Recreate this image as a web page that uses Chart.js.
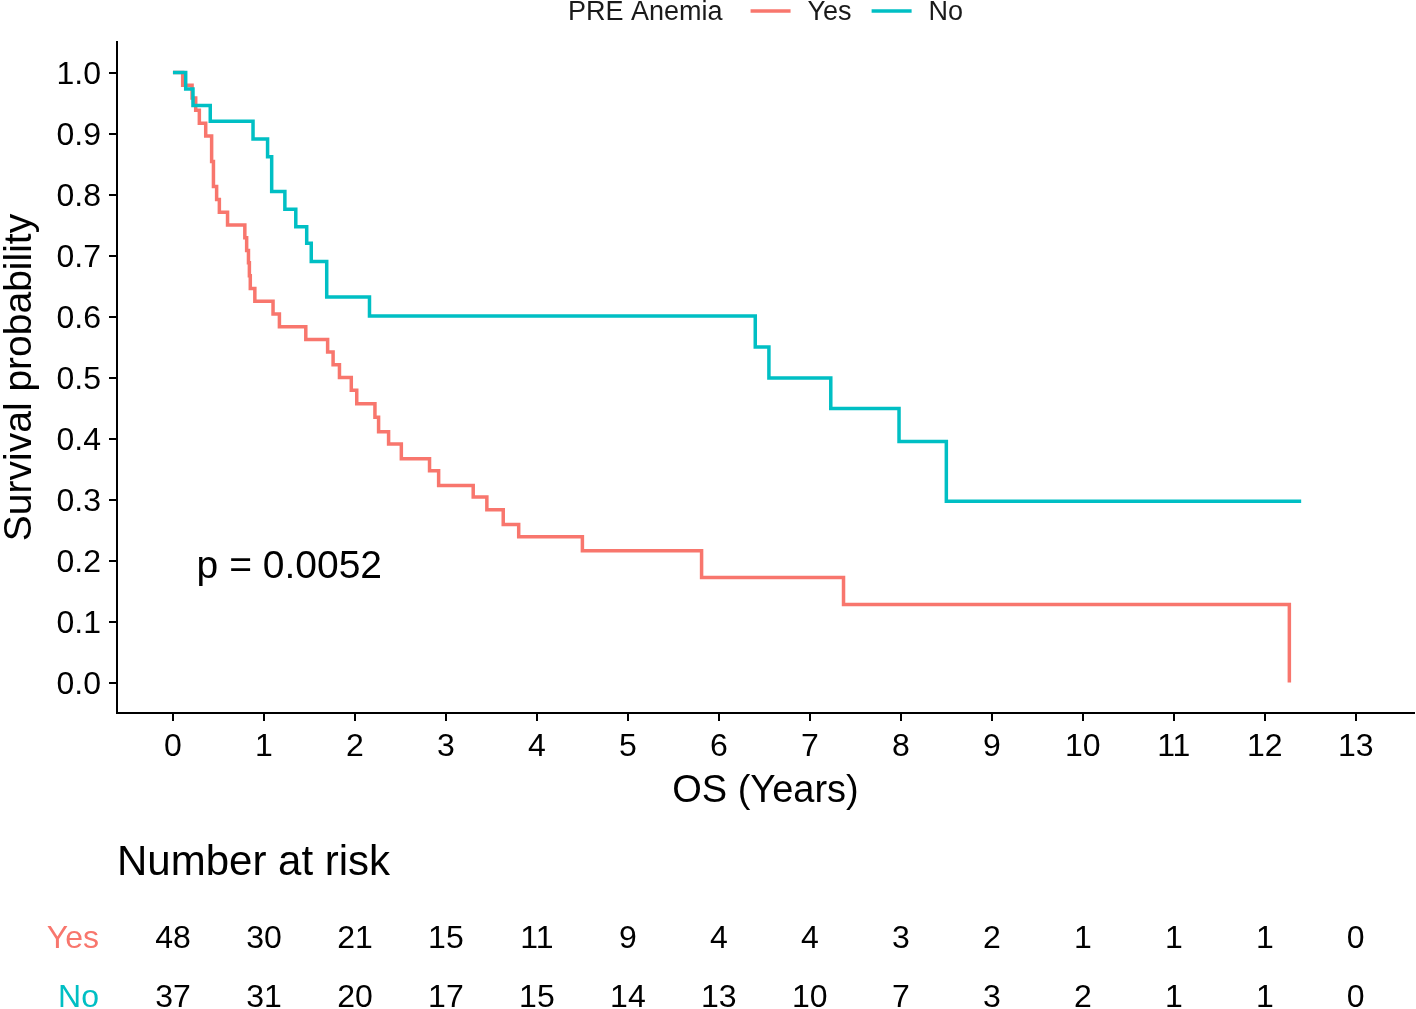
<!DOCTYPE html>
<html><head><meta charset="utf-8">
<script src="https://cdn.jsdelivr.net/npm/chart.js@4/dist/chart.umd.min.js"></script>
<style>html,body{margin:0;padding:0;background:#fff;overflow:hidden}</style>
</head><body>
<canvas id="c" width="1416" height="1009"></canvas>
<script>
// ---- data ----
const yesTimes = [0, 0.107, 0.21, 0.25, 0.29, 0.36, 0.425, 0.445, 0.48, 0.51, 0.60, 0.79, 0.81, 0.83, 0.84, 0.85, 0.90, 1.10, 1.17, 1.46, 1.70, 1.76, 1.83, 1.96, 2.02, 2.22, 2.26, 2.37, 2.51, 2.82, 2.92, 3.30, 3.45, 3.63, 3.80, 4.50, 5.81, 7.37, 12.27];
const yesSurv  = [1.0, 0.979, 0.958, 0.938, 0.917, 0.896, 0.854, 0.813, 0.792, 0.771, 0.750, 0.729, 0.708, 0.688, 0.667, 0.646, 0.625, 0.604, 0.583, 0.5625, 0.542, 0.521, 0.500, 0.479, 0.457, 0.435, 0.411, 0.391, 0.367, 0.347, 0.323, 0.304, 0.283, 0.259, 0.239, 0.216, 0.172, 0.128, 0.0];
const noTimes  = [0, 0.14, 0.22, 0.41, 0.88, 1.04, 1.085, 1.23, 1.35, 1.47, 1.52, 1.69, 2.16, 6.40, 6.55, 7.23, 7.98, 8.50, 12.40];
const noSurv   = [1.0, 0.973, 0.946, 0.920, 0.891, 0.862, 0.805, 0.776, 0.747, 0.720, 0.690, 0.632, 0.601, 0.550, 0.499, 0.449, 0.395, 0.297, 0.297];
const xTicks = [0,1,2,3,4,5,6,7,8,9,10,11,12,13];
const yTicks = [0,0.1,0.2,0.3,0.4,0.5,0.6,0.7,0.8,0.9,1.0];
const riskTimes = [0,1,2,3,4,5,6,7,8,9,10,11,12,13];
const riskYes = [48,30,21,15,11,9,4,4,3,2,1,1,1,0];
const riskNo  = [37,31,20,17,15,14,13,10,7,3,2,1,1,0];
const groupLabels = ['Yes','No'];
const groupColors = ['#F8766D','#00BFC4'];
const legendTitle = 'PRE Anemia';
const pValueText = 'p = 0.0052';
const pValuePos = [0.26, 0.189];
const xTitle = 'OS (Years)';
const yTitle = 'Survival probability';
const riskTitle = 'Number at risk';

const FONT = '"Liberation Sans", Arial, sans-serif';
const toXY = (ts, ss) => ts.map((t, i) => ({x: t, y: ss[i]}));

const extras = {
  id: 'extras',
  afterDraw(chart) {
    const ctx = chart.ctx;
    const xs = chart.scales.x, ys = chart.scales.y;
    ctx.save();
    // legend
    ctx.font = '27px ' + FONT;
    ctx.textBaseline = 'middle';
    ctx.textAlign = 'left';
    ctx.fillStyle = '#1a1a1a';
    const ly = 13;
    let lx = 568;
    ctx.fillText(legendTitle, lx, ly);
    lx += ctx.measureText(legendTitle).width + 28;
    chart.data.datasets.forEach((ds, i) => {
      ctx.strokeStyle = ds.borderColor;
      ctx.lineWidth = 3.5;
      ctx.beginPath(); ctx.moveTo(lx, ly - 2); ctx.lineTo(lx + 40, ly - 2); ctx.stroke();
      lx += 40 + 17;
      ctx.fillStyle = '#1a1a1a';
      ctx.fillText(ds.label, lx, ly);
      lx += ctx.measureText(ds.label).width + 20;
    });
    // p-value
    ctx.font = '39px ' + FONT;
    ctx.fillStyle = '#000';
    ctx.fillText(pValueText, xs.getPixelForValue(pValuePos[0]), ys.getPixelForValue(pValuePos[1]));
    // risk table
    ctx.font = '42px ' + FONT;
    ctx.fillText(riskTitle, chart.chartArea.left, 863);
    const rows = [riskYes, riskNo];
    const rowY = [939, 998];
    rows.forEach((row, r) => {
      ctx.font = '32px ' + FONT;
      ctx.textAlign = 'right';
      ctx.fillStyle = groupColors[r];
      ctx.fillText(groupLabels[r], 99, rowY[r]);
      ctx.textAlign = 'center';
      ctx.fillStyle = '#000';
      row.forEach((v, i) => ctx.fillText(String(v), xs.getPixelForValue(riskTimes[i]), rowY[r]));
    });
    ctx.restore();
  }
};

new Chart(document.getElementById('c'), {
  type: 'line',
  data: {
    datasets: [
      {label: groupLabels[0], data: toXY(yesTimes, yesSurv), borderColor: groupColors[0], borderWidth: 3.5, stepped: 'before', pointRadius: 0, fill: false, order: 1},
      {label: groupLabels[1], data: toXY(noTimes, noSurv), borderColor: groupColors[1], borderWidth: 3.5, stepped: 'before', pointRadius: 0, fill: false, order: 0}
    ]
  },
  options: {
    responsive: false,
    animation: false,
    devicePixelRatio: 1,
    layout: {padding: {top: 42, right: 2, left: 0, bottom: 0}},
    plugins: {legend: {display: false}, tooltip: {enabled: false}},
    scales: {
      x: {
        type: 'linear', min: -0.615, max: 13.64,
        afterBuildTicks: s => { s.ticks = xTicks.map(v => ({value: v})); },
        afterFit: s => { s.height = 296; },
        ticks: {autoSkip: false, maxRotation: 0, padding: 7, color: '#000', font: {family: FONT, size: 32}, callback: v => String(v)},
        grid: {drawOnChartArea: false, drawTicks: true, tickLength: 8, color: '#000', lineWidth: 2},
        border: {display: true, color: '#000', width: 2},
        title: {display: true, text: xTitle, color: '#000', font: {family: FONT, size: 38, lineHeight: 1.2}, padding: {top: 0, bottom: 195}}
      },
      y: {
        type: 'linear', min: -0.05, max: 1.05,
        afterBuildTicks: s => { s.ticks = yTicks.map(v => ({value: v})); },
        afterFit: s => { s.width = 117; },
        ticks: {autoSkip: false, padding: 8, labelOffset: 3, color: '#000', font: {family: FONT, size: 32}, callback: v => Number(v).toFixed(1)},
        grid: {drawOnChartArea: false, drawTicks: true, tickLength: 8, color: '#000', lineWidth: 2},
        border: {display: true, color: '#000', width: 2},
        title: {display: true, text: yTitle, color: '#000', font: {family: FONT, size: 39, lineHeight: 1.0}, padding: {top: 1, bottom: 0}}
      }
    }
  },
  plugins: [extras]
});
</script>
</body></html>
